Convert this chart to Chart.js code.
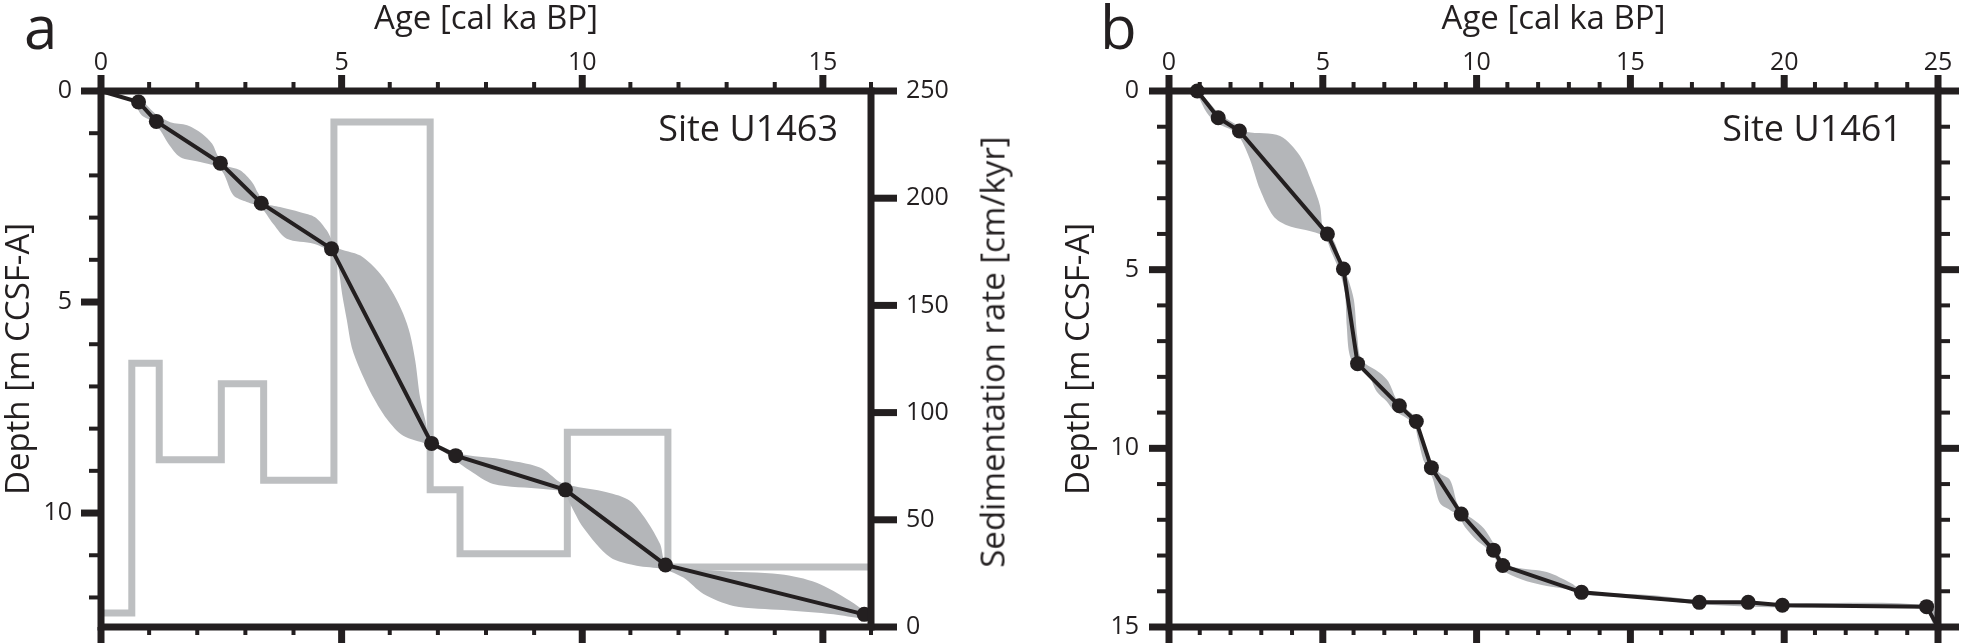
<!DOCTYPE html>
<html lang="en">
<head>
    <meta charset="UTF-8">
    <title>Age models, Sites U1463 and U1461</title>
    <style>
        body {
            margin: 0;
            background: #ffffff;
            font-family: 'Open Sans', sans-serif;
            color: #231f20;
        }
        .figure {
            position: relative;
            width: 1968px;
            height: 644px;
            overflow: hidden;
        }
        .panel {
            position: absolute;
            top: 0;
            height: 644px;
        }
        .letter {
            position: absolute;
            top: -4px;
            font-size: 60px;
            line-height: 60px;
        }
        .site {
            position: absolute;
            top: 110px;
            font-size: 36px;
            line-height: 36px;
            text-align: right;
            white-space: nowrap;
        }
        .rate-title {
            position: absolute;
            left: 992px;
            top: 352px;
            font-size: 33px;
            white-space: nowrap;
            transform: translate(-50%, -50%) rotate(-90deg);
        }
    </style>
    <script src="https://cdn.jsdelivr.net/npm/chart.js"></script>
</head>
<body>
    <div class="figure">
        <div class="panel" style="left:0; width:1050px;"><canvas id="chartA" width="1050" height="644"></canvas></div>
        <div class="panel" style="left:1050px; width:918px;"><canvas id="chartB" width="918" height="644"></canvas></div>
        <div class="letter" style="left:24px;">a</div>
        <div class="letter" style="left:1100px;">b</div>
        <div class="site" style="right:1130px;">Site U1463</div>
        <div class="site" style="right:66px;">Site U1461</div>
        <div class="rate-title">Sedimentation rate [cm/kyr]</div>
    </div>
    <script>
        // Site U1463 - age model tie points
        const ageA = [0, 0.78, 1.15, 2.48, 3.33, 4.79, 6.87, 7.37, 9.65, 11.73, 15.86];
        const depthA = [0, 0.26, 0.72, 1.71, 2.66, 3.74, 8.35, 8.64, 9.45, 11.23, 12.40];

        // Site U1463 - sedimentation rate steps (start age of each interval)
        const rateAgeA = [0, 0.64, 1.21, 2.50, 3.38, 4.84, 6.84, 7.46, 9.69, 11.78, 16];
        const rateA = [6.5, 123, 78, 113.5, 68.4, 235.5, 64, 34.2, 90.8, 28, 28];

        // Site U1463 - uncertainty envelope (older edge going down, younger edge coming back up)
        const bandAgeA = [0.82, 1.13, 1.44, 1.79, 2.10, 2.31, 2.44, 2.58, 2.89, 3.14, 3.27, 3.41, 3.72, 4.14, 4.45, 4.69, 4.90,
            5.39, 5.80, 6.08, 6.28, 6.42, 6.53, 6.63, 6.74, 6.84, 7.12, 7.46, 8.29, 9.12, 9.54, 9.75, 10.51, 10.99, 11.34,
            11.62, 11.76, 12.79, 14.11, 14.87, 15.56, 15.87,
            15.84, 15.22, 14.18, 13.14, 12.52, 12.10, 11.68, 11.13, 10.58, 10.02, 9.75, 9.61, 9.19, 8.15, 7.67, 6.98, 6.77,
            6.28, 5.94, 5.66, 5.39, 5.21, 5.11, 5.01, 4.93, 4.83, 4.42, 3.86, 3.58, 3.31, 3.03, 2.75, 2.55, 2.41, 2.06, 1.65,
            1.40, 1.23, 1.02, 0.85, 0.75, 0.76];
        const bandDepthA = [0.18, 0.54, 0.74, 0.81, 1.01, 1.25, 1.57, 1.76, 1.88, 2.16, 2.43, 2.66, 2.75, 2.87, 2.99, 3.30, 3.70,
            3.90, 4.33, 4.81, 5.28, 5.75, 6.39, 7.26, 7.80, 8.28, 8.44, 8.60, 8.72, 8.92, 9.27, 9.35, 9.51, 9.71, 10.18,
            10.74, 11.21, 11.37, 11.45, 11.65, 12.08, 12.36,
            12.49, 12.40, 12.30, 12.20, 11.92, 11.53, 11.33, 11.25, 11.05, 10.34, 9.79, 9.51, 9.43, 9.31, 9.00, 8.44, 8.36,
            8.17, 7.77, 7.26, 6.62, 6.07, 5.44, 4.81, 4.17, 3.86, 3.62, 3.50, 3.15, 2.75, 2.63, 2.47, 1.96, 1.79, 1.68, 1.57,
            1.25, 0.93, 0.69, 0.58, 0.38, 0.20];

        // Site U1461 - age model tie points (last one closes the line at the corner)
        const ageB = [0.92, 1.60, 2.29, 5.15, 5.67, 6.13, 7.49, 8.04, 8.53, 9.50, 10.55, 10.85, 13.41, 17.24, 18.83, 19.94, 24.63, 25];
        const depthB = [0, 0.75, 1.12, 4.00, 4.98, 7.63, 8.81, 9.25, 10.54, 11.84, 12.85, 13.28, 14.03, 14.31, 14.31, 14.39, 14.43, 15];

        // Site U1461 - uncertainty envelope
        const bandAgeB = [0.92, 1.12, 1.66, 2.36, 2.53, 3.61, 4.26, 4.69, 4.91, 5.02, 5.34, 5.58, 5.83, 6.01, 6.12, 6.26, 6.86,
            7.13, 7.40, 7.62, 8.16, 8.16, 8.40, 8.81, 9.14, 9.37, 9.57, 9.84, 10.24, 10.49, 10.65, 10.92, 11.30, 12.28, 13.09,
            13.47, 15.74, 17.24, 19.97, 24.70, 25.00,
            24.90, 24.55, 19.90, 17.20, 15.50, 13.30, 13.14, 12.28, 11.63, 10.98, 10.82, 10.33, 10.00, 9.62, 9.40, 9.14, 8.81,
            8.59, 8.43, 8.27, 8.10, 7.94, 7.29, 7.08, 6.75, 6.43, 6.05, 5.86, 5.78, 5.72, 5.56, 5.29, 5.02, 3.83, 3.39, 2.96,
            2.63, 2.31, 2.09, 1.55, 1.23, 0.95, 0.88];
        const bandDepthB = [0.00, 0.14, 0.65, 1.03, 1.15, 1.26, 1.82, 2.66, 3.22, 3.88, 4.16, 4.72, 5.28, 5.84, 6.87, 7.52, 7.89,
            8.13, 8.64, 8.83, 9.25, 9.48, 10.23, 10.70, 10.89, 11.54, 11.82, 11.96, 12.24, 12.57, 12.80, 13.22, 13.34, 13.46, 13.78,
            13.99, 14.11, 14.25, 14.33, 14.40, 14.85,
            15.00, 14.50, 14.45, 14.36, 14.20, 14.08, 13.97, 13.85, 13.72, 13.49, 13.32, 12.80, 12.57, 12.20, 11.87, 11.73, 11.54,
            10.89, 10.56, 10.33, 9.76, 9.30, 8.92, 8.69, 8.41, 7.85, 7.71, 7.34, 6.59, 5.65, 5.09, 4.53, 4.06, 3.76, 3.50, 2.76,
            1.91, 1.31, 1.12, 0.89, 0.61, 0.14, 0.00];

        const INK = '#231f20';
        const BAND = '#b4b6b9';
        const RATE = '#bdbfc1';
        const tickFont = { family: "'Open Sans', sans-serif", size: 25 };
        const titleFont = { family: "'Open Sans', sans-serif", size: 33 };

        const pts = (xs, ys) => xs.map((x, i) => ({ x: x, y: ys[i] }));
        const everyFifth = v => (Math.abs(v % 5) < 1e-9 ? String(v) : '');

        // the library's own tick marks stay hidden; tickLength only sets the label gap
        // (ticks.padding would also be added to the plot's bottom padding)
        const hiddenGrid = gap => ({ display: false, drawTicks: true, tickLength: gap });

        // thick box round the plot plus outward tick marks, placed with the chart's scales
        const axisFrame = {
            id: 'axisFrame',
            afterDatasetsDraw(chart, args, o) {
                const { ctx, chartArea: a } = chart;
                const sides = [
                    ['top', chart.scales.x],
                    ['bottom', chart.scales.x],
                    ['left', chart.scales.y],
                    ['right', chart.scales[o.rightScale]]
                ];
                ctx.save();
                ctx.strokeStyle = INK;
                ctx.lineCap = 'butt';
                sides.forEach(([side, scale]) => {
                    scale.ticks.forEach(t => {
                        const p = scale.getPixelForValue(t.value);
                        const major = Math.abs(t.value % o.major[side]) < 1e-9;
                        const len = major ? o.majorLen[side] : o.minorLen[side];
                        ctx.lineWidth = major ? 7 : 4;
                        ctx.beginPath();
                        if (side === 'top') { ctx.moveTo(p, a.top); ctx.lineTo(p, a.top - len); }
                        else if (side === 'bottom') { ctx.moveTo(p, a.bottom); ctx.lineTo(p, a.bottom + len); }
                        else if (side === 'left') { ctx.moveTo(a.left, p); ctx.lineTo(a.left - len, p); }
                        else { ctx.moveTo(a.right, p); ctx.lineTo(a.right + len, p); }
                        ctx.stroke();
                    });
                });
                ctx.lineWidth = 7;
                ctx.lineJoin = 'miter';
                ctx.strokeRect(a.left, a.top, a.right - a.left, a.bottom - a.top);
                ctx.restore();
            }
        };

        function ageAxis(max) {
            return {
                type: 'linear',
                position: 'top',
                min: 0,
                max: max,
                ticks: { stepSize: 1, autoSkip: false, maxRotation: 0, includeBounds: false, padding: 0, font: tickFont, color: INK, callback: everyFifth },
                grid: hiddenGrid(13),
                border: { display: false },
                title: { display: true, text: 'Age [cal ka BP]', font: titleFont, color: INK, padding: { top: 0, bottom: 0 } },
                afterFit: s => { s.height = 91; }
            };
        }

        function depthAxis(max, width, labelGap, titlePad) {
            return {
                type: 'linear',
                position: 'left',
                reverse: true,
                min: 0,
                max: max,
                ticks: { stepSize: 1, autoSkip: false, includeBounds: false, padding: 0, font: tickFont, color: INK, callback: everyFifth },
                grid: hiddenGrid(labelGap),
                border: { display: false },
                title: { display: true, text: 'Depth [m CCSF-A]', font: titleFont, color: INK, padding: { top: titlePad, bottom: 0 } },
                afterFit: s => { s.width = width; }
            };
        }

        const common = {
            responsive: false,
            animation: false,
            devicePixelRatio: 1,
            layout: { padding: { top: 0, left: 0, right: 0, bottom: 17 } },
            plugins: { legend: { display: false }, tooltip: { enabled: false } }
        };

        new Chart(document.getElementById('chartA'), {
            type: 'scatter',
            data: {
                datasets: [
                    {
                        label: 'Age model',
                        data: pts(ageA, depthA),
                        showLine: true,
                        borderColor: INK,
                        borderWidth: 4,
                        pointRadius: c => (c.dataIndex === 0 ? 0 : 7.5),
                        pointBackgroundColor: INK,
                        pointBorderWidth: 0,
                        clip: false,
                        order: 0,
                        yAxisID: 'y'
                    },
                    {
                        label: 'Uncertainty',
                        data: pts(bandAgeA, bandDepthA),
                        showLine: true,
                        borderWidth: 0,
                        borderColor: 'rgba(0,0,0,0)',
                        backgroundColor: BAND,
                        fill: 'shape',
                        tension: 0.3,
                        pointRadius: 0,
                        order: 1,
                        yAxisID: 'y'
                    },
                    {
                        label: 'Sedimentation rate',
                        data: pts(rateAgeA, rateA),
                        showLine: true,
                        stepped: 'before',
                        borderColor: RATE,
                        borderWidth: 7,
                        pointRadius: 0,
                        order: 2,
                        yAxisID: 'rate'
                    }
                ]
            },
            options: Object.assign({}, common, {
                scales: {
                    x: ageAxis(16),
                    y: depthAxis(12.7, 101, 29, 0),
                    rate: {
                        type: 'linear',
                        position: 'right',
                        min: 0,
                        max: 250,
                        ticks: { stepSize: 50, padding: 0, font: tickFont, color: INK },
                        grid: hiddenGrid(35),
                        border: { display: false },
                        afterFit: s => { s.width = 179; }
                    }
                },
                plugins: Object.assign({}, common.plugins, {
                    axisFrame: {
                        rightScale: 'rate',
                        major: { top: 5, bottom: 5, left: 5, right: 50 },
                        majorLen: { top: 16, bottom: 16, left: 20, right: 26 },
                        minorLen: { top: 9, bottom: 8, left: 12, right: 12 }
                    }
                })
            }),
            plugins: [axisFrame]
        });

        new Chart(document.getElementById('chartB'), {
            type: 'scatter',
            data: {
                datasets: [
                    {
                        label: 'Age model',
                        data: pts(ageB, depthB),
                        showLine: true,
                        borderColor: INK,
                        borderWidth: 4,
                        pointRadius: c => (c.dataIndex === ageB.length - 1 ? 0 : 7.5),
                        pointBackgroundColor: INK,
                        pointBorderWidth: 0,
                        clip: false,
                        order: 0
                    },
                    {
                        label: 'Uncertainty',
                        data: pts(bandAgeB, bandDepthB),
                        showLine: true,
                        borderWidth: 0,
                        borderColor: 'rgba(0,0,0,0)',
                        backgroundColor: BAND,
                        fill: 'shape',
                        tension: 0.3,
                        pointRadius: 0,
                        order: 1
                    }
                ]
            },
            options: Object.assign({}, common, {
                layout: { padding: { top: 0, left: 0, right: 30, bottom: 17 } },
                scales: {
                    x: ageAxis(25),
                    y: depthAxis(15, 119, 30, 10)
                },
                plugins: Object.assign({}, common.plugins, {
                    axisFrame: {
                        rightScale: 'y',
                        major: { top: 5, bottom: 5, left: 5, right: 5 },
                        majorLen: { top: 16, bottom: 16, left: 20, right: 21 },
                        minorLen: { top: 9, bottom: 8, left: 12, right: 12 }
                    }
                })
            }),
            plugins: [axisFrame]
        });
    </script>
</body>
</html>
